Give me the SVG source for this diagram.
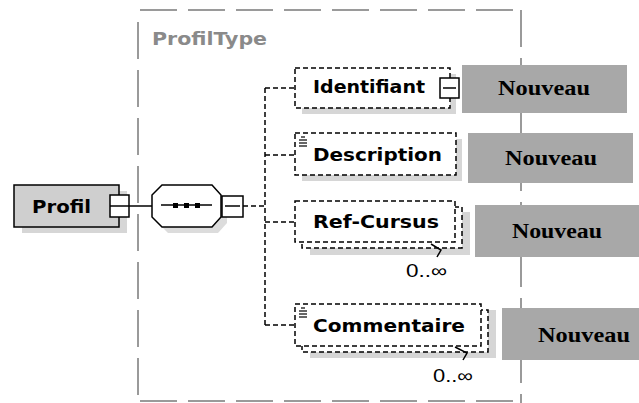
<svg xmlns="http://www.w3.org/2000/svg" width="639" height="403" viewBox="0 0 639 403">
<defs>
<style>
.frame{fill:none;stroke:#7a7a7a;stroke-width:1.5;stroke-dasharray:37 11}
.el{fill:#fff;stroke:#000;stroke-width:1.5;stroke-dasharray:5 3}
.shadow{fill:#d6d6d6}
.solid{fill:none;stroke:#000;stroke-width:1.5}
.conn{fill:none;stroke:#000;stroke-width:1.5;stroke-dasharray:5 3}
.name{font-family:"DejaVu Sans",Verdana,sans-serif;font-weight:bold;font-size:18px;fill:#000}
.type{font-family:"DejaVu Sans",Verdana,sans-serif;font-weight:bold;font-size:18px;fill:#8a8a8a}
.new{fill:#a8a8a8}
.newt{font-family:"Liberation Serif","Times New Roman",serif;font-weight:bold;font-size:20px;fill:#000}
.occ{font-family:"Liberation Sans",Arial,sans-serif;font-size:18px;fill:#000}
.icon{stroke:#000;stroke-width:1.2}
</style>
</defs>
<rect width="639" height="403" fill="#fff"/>

<g id="ProfilType">
<line class="frame" x1="140" y1="10" x2="521" y2="10"/>
<line class="frame" x1="138" y1="22" x2="138" y2="403"/>
<line class="frame" x1="521" y1="10" x2="521" y2="403"/>
<line class="frame" x1="140" y1="401" x2="521" y2="401"/>
<text class="type" x="152" y="45" textLength="115" lengthAdjust="spacingAndGlyphs">ProfilType</text>
</g>

<g id="connectors">
<line class="solid" x1="129" y1="206" x2="152" y2="206"/>
<line class="conn" x1="243" y1="206" x2="265" y2="206"/>
<line class="conn" x1="265" y1="88" x2="265" y2="325"/>
<line class="conn" x1="265" y1="88" x2="295" y2="88"/>
<line class="conn" x1="265" y1="155" x2="295" y2="155"/>
<line class="conn" x1="265" y1="222" x2="295" y2="222"/>
<line class="conn" x1="265" y1="325" x2="295" y2="325"/>
</g>

<g id="Profil">
<rect class="shadow" x="22" y="191" width="105" height="42"/>
<rect x="14" y="185" width="105" height="42" fill="#cfcfcf" stroke="#000" stroke-width="1.5"/>
<text class="name" x="32" y="213" font-size="21" textLength="59" lengthAdjust="spacingAndGlyphs">Profil</text>
<rect x="110" y="195" width="19" height="22" fill="#fff" stroke="#000" stroke-width="1.5"/>
<line class="solid" x1="110" y1="206" x2="129" y2="206"/>
</g>

<g id="sequence">
<polygon points="168,191 218,191 227,201 227,223 218,233 168,233 158,223 158,201" fill="#dcdcdc"/>
<polygon points="162,185 212,185 221,195 221,217 212,227 162,227 152,217 152,195" fill="#fff" stroke="#000" stroke-width="1.5"/>
<line class="solid" x1="161" y1="205" x2="212" y2="205"/>
<rect x="173" y="203" width="5" height="5" fill="#000"/>
<rect x="184" y="203" width="5" height="5" fill="#000"/>
<rect x="195" y="203" width="5" height="5" fill="#000"/>
<rect x="222" y="196" width="21" height="21" fill="#fff" stroke="#000" stroke-width="1.5"/>
<line class="solid" x1="225" y1="206" x2="240" y2="206"/>
</g>

<g id="Identifiant">
<rect class="shadow" x="302" y="74" width="154" height="40"/>
<rect class="el" x="295" y="68" width="155" height="40"/>
<text class="name" x="313" y="93" textLength="112" lengthAdjust="spacingAndGlyphs">Identifiant</text>
<rect x="440" y="78" width="19" height="20" fill="#fff" stroke="#000" stroke-width="1.5"/>
<line class="solid" x1="443" y1="88" x2="456" y2="88"/>
</g>

<g id="Description">
<rect class="shadow" x="302" y="139" width="160" height="42"/>
<rect class="el" x="295" y="133" width="161" height="42"/>
<line class="icon" x1="301" y1="137" x2="305" y2="137"/>
<line class="icon" x1="299" y1="140" x2="307" y2="140"/>
<line class="icon" x1="299" y1="143" x2="307" y2="143"/>
<line class="icon" x1="299" y1="146" x2="307" y2="146"/>
<text class="name" x="313" y="161" font-size="20" textLength="129" lengthAdjust="spacingAndGlyphs">Description</text>
</g>

<g id="Ref-Cursus">
<rect class="shadow" x="310" y="212" width="160" height="43"/>
<rect class="el" x="302" y="207" width="160" height="41"/>
<rect class="el" x="295" y="201" width="160" height="41"/>
<text class="name" x="313" y="228" font-size="20" textLength="126" lengthAdjust="spacingAndGlyphs">Ref-Cursus</text>
<polyline class="solid" stroke-width="1" points="431,244 441,250 437,257"/>
<text class="occ" x="406" y="277" textLength="41" lengthAdjust="spacingAndGlyphs">0..∞</text>
</g>

<g id="Commentaire">
<rect class="shadow" x="310" y="310" width="186" height="48"/>
<rect class="el" x="302" y="310" width="186" height="42"/>
<rect class="el" x="295" y="304" width="186" height="42"/>
<line class="icon" x1="301" y1="308" x2="305" y2="308"/>
<line class="icon" x1="299" y1="311" x2="307" y2="311"/>
<line class="icon" x1="299" y1="314" x2="307" y2="314"/>
<line class="icon" x1="299" y1="317" x2="307" y2="317"/>
<text class="name" x="313" y="332" font-size="20" textLength="152" lengthAdjust="spacingAndGlyphs">Commentaire</text>
<polyline class="solid" stroke-width="1" points="455,347 467,353 463,360"/>
<text class="occ" x="433" y="382" textLength="40" lengthAdjust="spacingAndGlyphs">0..∞</text>
</g>

<g id="Nouveau1">
<rect class="new" x="462" y="65" width="165" height="48"/>
<text class="newt" x="498" y="95" textLength="92" lengthAdjust="spacingAndGlyphs">Nouveau</text>
</g>
<g id="Nouveau2">
<rect class="new" x="468" y="133" width="165" height="50"/>
<text class="newt" x="505" y="165" textLength="92" lengthAdjust="spacingAndGlyphs">Nouveau</text>
</g>
<g id="Nouveau3">
<rect class="new" x="475" y="205" width="164" height="52"/>
<text class="newt" x="512" y="238" textLength="90" lengthAdjust="spacingAndGlyphs">Nouveau</text>
</g>
<g id="Nouveau4">
<rect class="new" x="502" y="308" width="137" height="52"/>
<text class="newt" x="538" y="342" textLength="92" lengthAdjust="spacingAndGlyphs">Nouveau</text>
</g>
</svg>
